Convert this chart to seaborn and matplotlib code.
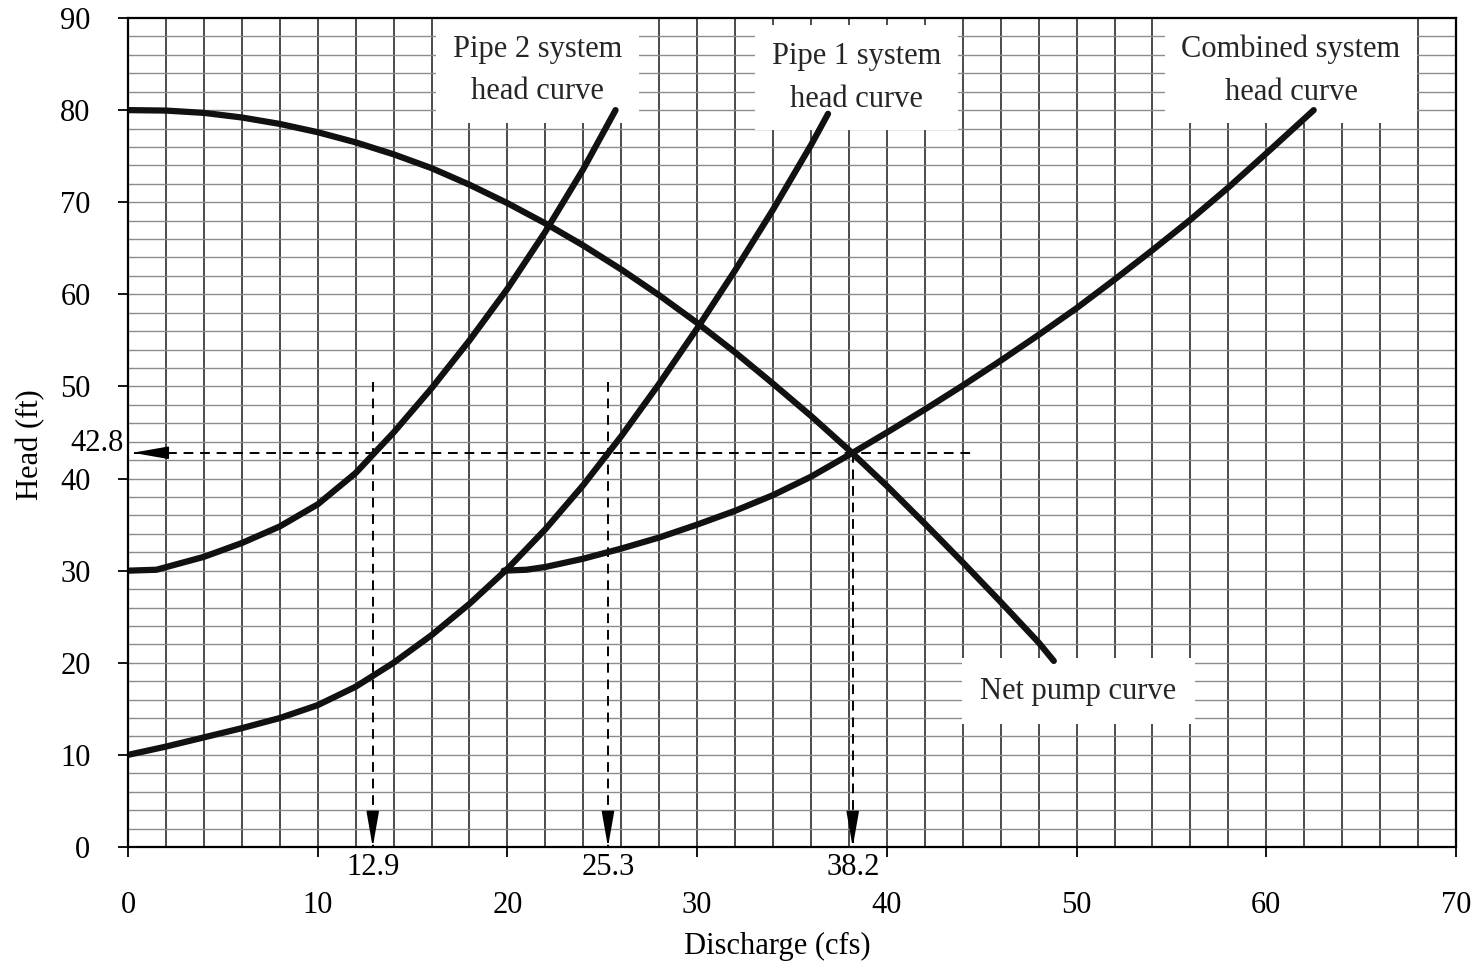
import numpy as np
import pandas as pd
import matplotlib
matplotlib.use("Agg")
import matplotlib.pyplot as plt
import seaborn as sns

# Pump and system head curves (discharge in cfs, head in ft)
pump_q = [0, 2, 4, 6, 8, 10, 12, 14, 16, 18, 20, 22, 24, 26, 28, 30, 32, 34, 36, 38, 40, 42, 44, 46, 48, 48.8]
pump_h = [80.0, 79.95, 79.7, 79.2, 78.5, 77.6, 76.5, 75.2, 73.7, 71.9, 69.9, 67.7, 65.3, 62.7, 59.9, 56.9, 53.7, 50.3, 46.8, 43.1, 39.2, 35.1, 30.9, 26.6, 22.2, 20.2]

pipe2_q = [0, 1.5, 4, 6, 8, 10, 12, 14, 16, 18, 20, 22, 24, 25.7]
pipe2_h = [30.0, 30.1, 31.5, 33.0, 34.8, 37.2, 40.6, 45.0, 49.8, 55.0, 60.6, 66.8, 73.6, 80.0]

pipe1_q = [0, 2, 4, 6, 8, 10, 12, 14, 16, 18, 20, 22, 24, 26, 28, 30, 32, 34, 36, 36.9]
pipe1_h = [10.0, 10.9, 11.9, 12.9, 14.0, 15.4, 17.4, 20.0, 23.0, 26.4, 30.2, 34.5, 39.3, 44.6, 50.3, 56.3, 62.6, 69.2, 76.2, 79.6]

comb_q = [19.8, 21, 22, 24, 26, 28, 30, 32, 34, 36, 38.2, 40, 42, 44, 46, 48, 50, 52, 54, 56, 58, 60, 62.5]
comb_h = [30.0, 30.1, 30.4, 31.3, 32.4, 33.6, 35.0, 36.5, 38.2, 40.2, 42.8, 45.0, 47.5, 50.1, 52.8, 55.6, 58.5, 61.6, 64.8, 68.1, 71.6, 75.3, 80.0]

# Operating point and individual pipe flows
op_head = 42.8
op_flows = [12.9, 25.3, 38.2]
op_labels = ["12.9", "25.3", "38.2"]

x_ticks = [0, 10, 20, 30, 40, 50, 60, 70]
y_ticks = [0, 10, 20, 30, 40, 50, 60, 70, 80, 90]

curves = pd.concat([
    pd.DataFrame({"Discharge": pump_q, "Head": pump_h, "curve": "Net pump curve"}),
    pd.DataFrame({"Discharge": pipe2_q, "Head": pipe2_h, "curve": "Pipe 2"}),
    pd.DataFrame({"Discharge": pipe1_q, "Head": pipe1_h, "curve": "Pipe 1"}),
    pd.DataFrame({"Discharge": comb_q, "Head": comb_h, "curve": "Combined"}),
], ignore_index=True)

sns.set_theme(style="white")
plt.rcParams["font.family"] = ["Liberation Serif", "DejaVu Serif"]
FS = 22

fig = plt.figure(figsize=(14.83, 9.64), dpi=100)
ax = fig.add_axes([128 / 1483, 117 / 964, 1328 / 1483, 829 / 964])

ax.set_xlim(0, 70)
ax.set_ylim(0, 90)

# Graph-paper grid: black verticals, grey horizontals every 2 units
for xv in np.arange(2, 70, 2):
    ax.axvline(xv, color="#1a1a1a", lw=1.1, zorder=1)
for yv in np.arange(2, 90, 2):
    ax.axhline(yv, color="#8c8c8c", lw=1.0, zorder=1)

sns.lineplot(data=curves, x="Discharge", y="Head", hue="curve", units="curve",
             estimator=None, sort=False, palette=["#111111"] * 4,
             linewidth=4.5, legend=False, ax=ax, zorder=5)
for ln in ax.lines:
    ln.set_solid_capstyle("round")
    ln.set_solid_joinstyle("round")

# Dashed construction lines with arrowheads
dash = dict(color="black", lw=1.4, linestyle=(0, (5, 3.5)), zorder=4)
ax.plot([0.3, 44.5], [op_head, op_head], **dash)
ax.plot([op_flows[0], op_flows[0]], [50.5, 0], **dash)
ax.plot([op_flows[1], op_flows[1]], [50.5, 0], **dash)
ax.plot([op_flows[2], op_flows[2]], [op_head, 0], **dash)

head_style = "-|>,head_length=1.7,head_width=0.3"
for q in op_flows:
    ax.annotate("", xy=(q, 0), xytext=(q, 3.4),
                arrowprops=dict(arrowstyle=head_style, color="black", lw=1.2,
                                shrinkA=0, shrinkB=0, mutation_scale=13),
                zorder=6)
ax.annotate("", xy=(0.25, op_head), xytext=(1.6, op_head),
            arrowprops=dict(arrowstyle=head_style, color="black", lw=1.2,
                            shrinkA=0, shrinkB=0, mutation_scale=13),
            zorder=6)

# Curve labels on white boxes
box = dict(boxstyle="square,pad=0.55", facecolor="white", edgecolor="none")
ax.text(21.6, 84.3, "Pipe 2 system\nhead curve", ha="center", va="center",
        fontsize=FS, linespacing=1.62, bbox=box, zorder=3)
ax.text(38.4, 83.5, "Pipe 1 system\nhead curve", ha="center", va="center",
        fontsize=FS, linespacing=1.62, bbox=box, zorder=3)
ax.text(61.3, 84.3, "Combined system\nhead curve", ha="center", va="center",
        fontsize=FS, linespacing=1.62, bbox=box, zorder=3)
ax.text(50.1, 16.9, "Net pump curve", ha="center", va="center",
        fontsize=FS, bbox=dict(boxstyle="square,pad=0.6", facecolor="white",
                               edgecolor="none"), zorder=3)

# Axes frame and ticks
for side in ["left", "right", "top", "bottom"]:
    ax.spines[side].set_visible(True)
    ax.spines[side].set_color("black")
    ax.spines[side].set_linewidth(1.6)
    ax.spines[side].set_zorder(7)

ax.set_xticks(x_ticks)
ax.set_xticklabels([str(v) for v in x_ticks])
ax.set_yticks(y_ticks)
ax.set_yticklabels([str(v) for v in y_ticks])
ax.set_xticks(op_flows, minor=True)
ax.set_xticklabels(op_labels, minor=True)

ax.tick_params(axis="both", which="major", direction="out", length=7,
               width=1.3, color="black", labelsize=FS, labelcolor="black",
               bottom=True, left=True, top=False, right=False)
ax.tick_params(axis="x", which="major", pad=25)
ax.tick_params(axis="y", which="major", pad=20)
ax.tick_params(axis="x", which="minor", length=0, pad=4, labelsize=FS,
               bottom=True, labelcolor="black")

# Operating head value beside the left axis
ax.annotate(f"{op_head}", xy=(0, op_head), xycoords=("axes fraction", "data"),
            xytext=(-3, 7), textcoords="offset points", ha="right", va="center",
            fontsize=FS, color="black", annotation_clip=False)

ax.set_xlabel("Discharge (cfs)", fontsize=FS, color="black")
ax.set_ylabel("Head (ft)", fontsize=FS, color="black")
ax.xaxis.set_label_coords(0.489, -0.102)
ax.yaxis.set_label_coords(-0.062, 0.485)

fig.savefig("out.png", dpi=100, facecolor="white")
